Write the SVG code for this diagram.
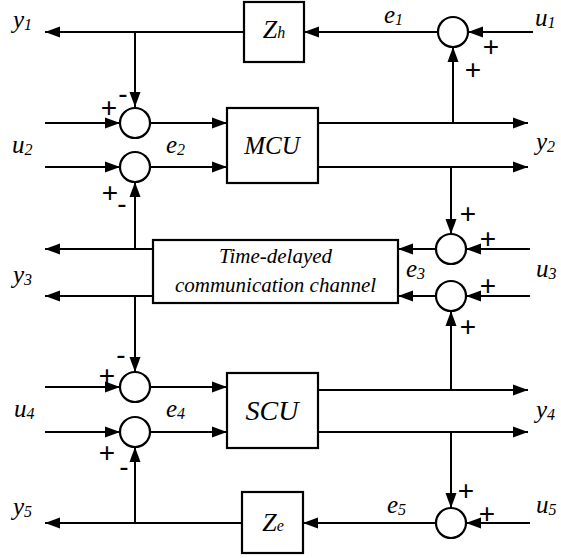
<svg xmlns="http://www.w3.org/2000/svg" width="561" height="558" viewBox="0 0 561 558">
<style>
.ln{stroke:#000;stroke-width:2;fill:none}
.arr{marker-end:url(#ah)}
.box{fill:#fff;stroke:#000;stroke-width:2.2}
.sum{fill:#fff;stroke:#000;stroke-width:2.2}
.lbl{font-family:"Liberation Serif",serif;font-style:italic;font-size:25px;fill:#000}
.sub{font-size:16px}
.sg{font-family:"Liberation Sans",Arial,sans-serif;font-size:28px;fill:#000;text-anchor:middle}
.bt{font-family:"Liberation Serif",serif;font-style:italic;fill:#000;text-anchor:middle}
</style>
<defs>
<marker id="ah" markerUnits="userSpaceOnUse" markerWidth="16" markerHeight="12" refX="15" refY="6" orient="auto">
<path d="M0,0.5 L15,6 L0,11.5 z" fill="#000"/>
</marker>
</defs>
<rect width="561" height="558" fill="#fff"/>
<g id="connectors">
<line class="ln arr" x1="533" y1="32" x2="468" y2="32"/>
<line class="ln arr" x1="438" y1="32" x2="304" y2="32"/>
<line class="ln arr" x1="244" y1="32" x2="45" y2="32"/>
<line class="ln arr" x1="135" y1="32" x2="135" y2="107"/>
<line class="ln arr" x1="45" y1="123" x2="120" y2="123"/>
<line class="ln arr" x1="150" y1="123" x2="227" y2="123"/>
<line class="ln arr" x1="45" y1="167" x2="120" y2="167"/>
<line class="ln arr" x1="150" y1="167" x2="227" y2="167"/>
<line class="ln arr" x1="318" y1="123" x2="528" y2="123"/>
<line class="ln arr" x1="318" y1="167" x2="528" y2="167"/>
<line class="ln arr" x1="453" y1="123" x2="453" y2="47"/>
<line class="ln arr" x1="451" y1="167" x2="451" y2="234"/>
<line class="ln arr" x1="530" y1="249" x2="466" y2="249"/>
<line class="ln arr" x1="436" y1="249" x2="398" y2="249"/>
<line class="ln arr" x1="530" y1="296" x2="466" y2="296"/>
<line class="ln arr" x1="436" y1="296" x2="398" y2="296"/>
<line class="ln arr" x1="153" y1="249" x2="45" y2="249"/>
<line class="ln arr" x1="153" y1="296" x2="45" y2="296"/>
<line class="ln arr" x1="135" y1="249" x2="135" y2="182"/>
<line class="ln arr" x1="135" y1="296" x2="135" y2="372"/>
<line class="ln arr" x1="45" y1="387" x2="120" y2="387"/>
<line class="ln arr" x1="150" y1="387" x2="227" y2="387"/>
<line class="ln arr" x1="45" y1="432" x2="120" y2="432"/>
<line class="ln arr" x1="150" y1="432" x2="227" y2="432"/>
<line class="ln arr" x1="318" y1="390" x2="528" y2="390"/>
<line class="ln arr" x1="318" y1="432" x2="528" y2="432"/>
<line class="ln arr" x1="451" y1="390" x2="451" y2="311"/>
<line class="ln arr" x1="451" y1="432" x2="451" y2="508"/>
<line class="ln arr" x1="530" y1="523" x2="466" y2="523"/>
<line class="ln arr" x1="436" y1="523" x2="303" y2="523"/>
<line class="ln arr" x1="242" y1="523" x2="45" y2="523"/>
<line class="ln arr" x1="135" y1="523" x2="135" y2="447"/>
</g>
<g id="Zh"><rect class="box" x="244" y="2" width="60" height="60"/><text class="bt" x="274" y="38" font-size="26">Z<tspan font-size="16">h</tspan></text></g>
<g id="MCU"><rect class="box" x="227" y="108" width="91" height="75"/><text class="bt" x="272" y="154" font-size="25">MCU</text></g>
<g id="channel"><rect class="box" x="153" y="240" width="245" height="63"/><text class="bt" x="275.5" y="263" font-size="21">Time-delayed</text><text class="bt" x="275.5" y="292" font-size="21">communication channel</text></g>
<g id="SCU"><rect class="box" x="227" y="373" width="91" height="75"/><text class="bt" x="272" y="420" font-size="28">SCU</text></g>
<g id="Ze"><rect class="box" x="242" y="492" width="61" height="61"/><text class="bt" x="273" y="531" font-size="26">Z<tspan font-size="16">e</tspan></text></g>
<g id="sum1"><circle class="sum" cx="453" cy="32" r="15"/><text class="sg" x="491" y="56">+</text><text class="sg" x="473" y="79">+</text></g>
<g id="sum2a"><circle class="sum" cx="135" cy="123" r="15"/><text class="sg" x="109" y="117">+</text><text class="sg" x="123" y="103">-</text></g>
<g id="sum2b"><circle class="sum" cx="135" cy="167" r="15"/><text class="sg" x="110" y="202">+</text><text class="sg" x="122" y="213">-</text></g>
<g id="sum3a"><circle class="sum" cx="451" cy="249" r="15"/><text class="sg" x="468" y="223">+</text><text class="sg" x="488" y="248">+</text></g>
<g id="sum3b"><circle class="sum" cx="451" cy="296" r="15"/><text class="sg" x="488" y="295">+</text><text class="sg" x="468" y="336">+</text></g>
<g id="sum4a"><circle class="sum" cx="135" cy="387" r="15"/><text class="sg" x="107" y="385">+</text><text class="sg" x="121" y="364">-</text></g>
<g id="sum4b"><circle class="sum" cx="135" cy="432" r="15"/><text class="sg" x="107" y="462">+</text><text class="sg" x="124" y="476">-</text></g>
<g id="sum5"><circle class="sum" cx="451" cy="523" r="15"/><text class="sg" x="466" y="500">+</text><text class="sg" x="487" y="523">+</text></g>
<g id="labels">
<text class="lbl" x="13" y="28">y<tspan class="sub" dy="2">1</tspan></text>
<text class="lbl" x="535" y="26">u<tspan class="sub" dy="2">1</tspan></text>
<text class="lbl" x="384" y="23">e<tspan class="sub" dy="2">1</tspan></text>
<text class="lbl" x="12" y="153">u<tspan class="sub" dy="2">2</tspan></text>
<text class="lbl" x="166" y="153">e<tspan class="sub" dy="2">2</tspan></text>
<text class="lbl" x="536" y="150">y<tspan class="sub" dy="2">2</tspan></text>
<text class="lbl" x="13" y="283">y<tspan class="sub" dy="2">3</tspan></text>
<text class="lbl" x="406" y="277">e<tspan class="sub" dy="2">3</tspan></text>
<text class="lbl" x="536" y="277">u<tspan class="sub" dy="2">3</tspan></text>
<text class="lbl" x="14" y="417">u<tspan class="sub" dy="2">4</tspan></text>
<text class="lbl" x="166" y="417">e<tspan class="sub" dy="2">4</tspan></text>
<text class="lbl" x="536" y="418">y<tspan class="sub" dy="2">4</tspan></text>
<text class="lbl" x="13" y="515">y<tspan class="sub" dy="2">5</tspan></text>
<text class="lbl" x="387" y="513">e<tspan class="sub" dy="2">5</tspan></text>
<text class="lbl" x="536" y="513">u<tspan class="sub" dy="2">5</tspan></text>
</g>
</svg>
